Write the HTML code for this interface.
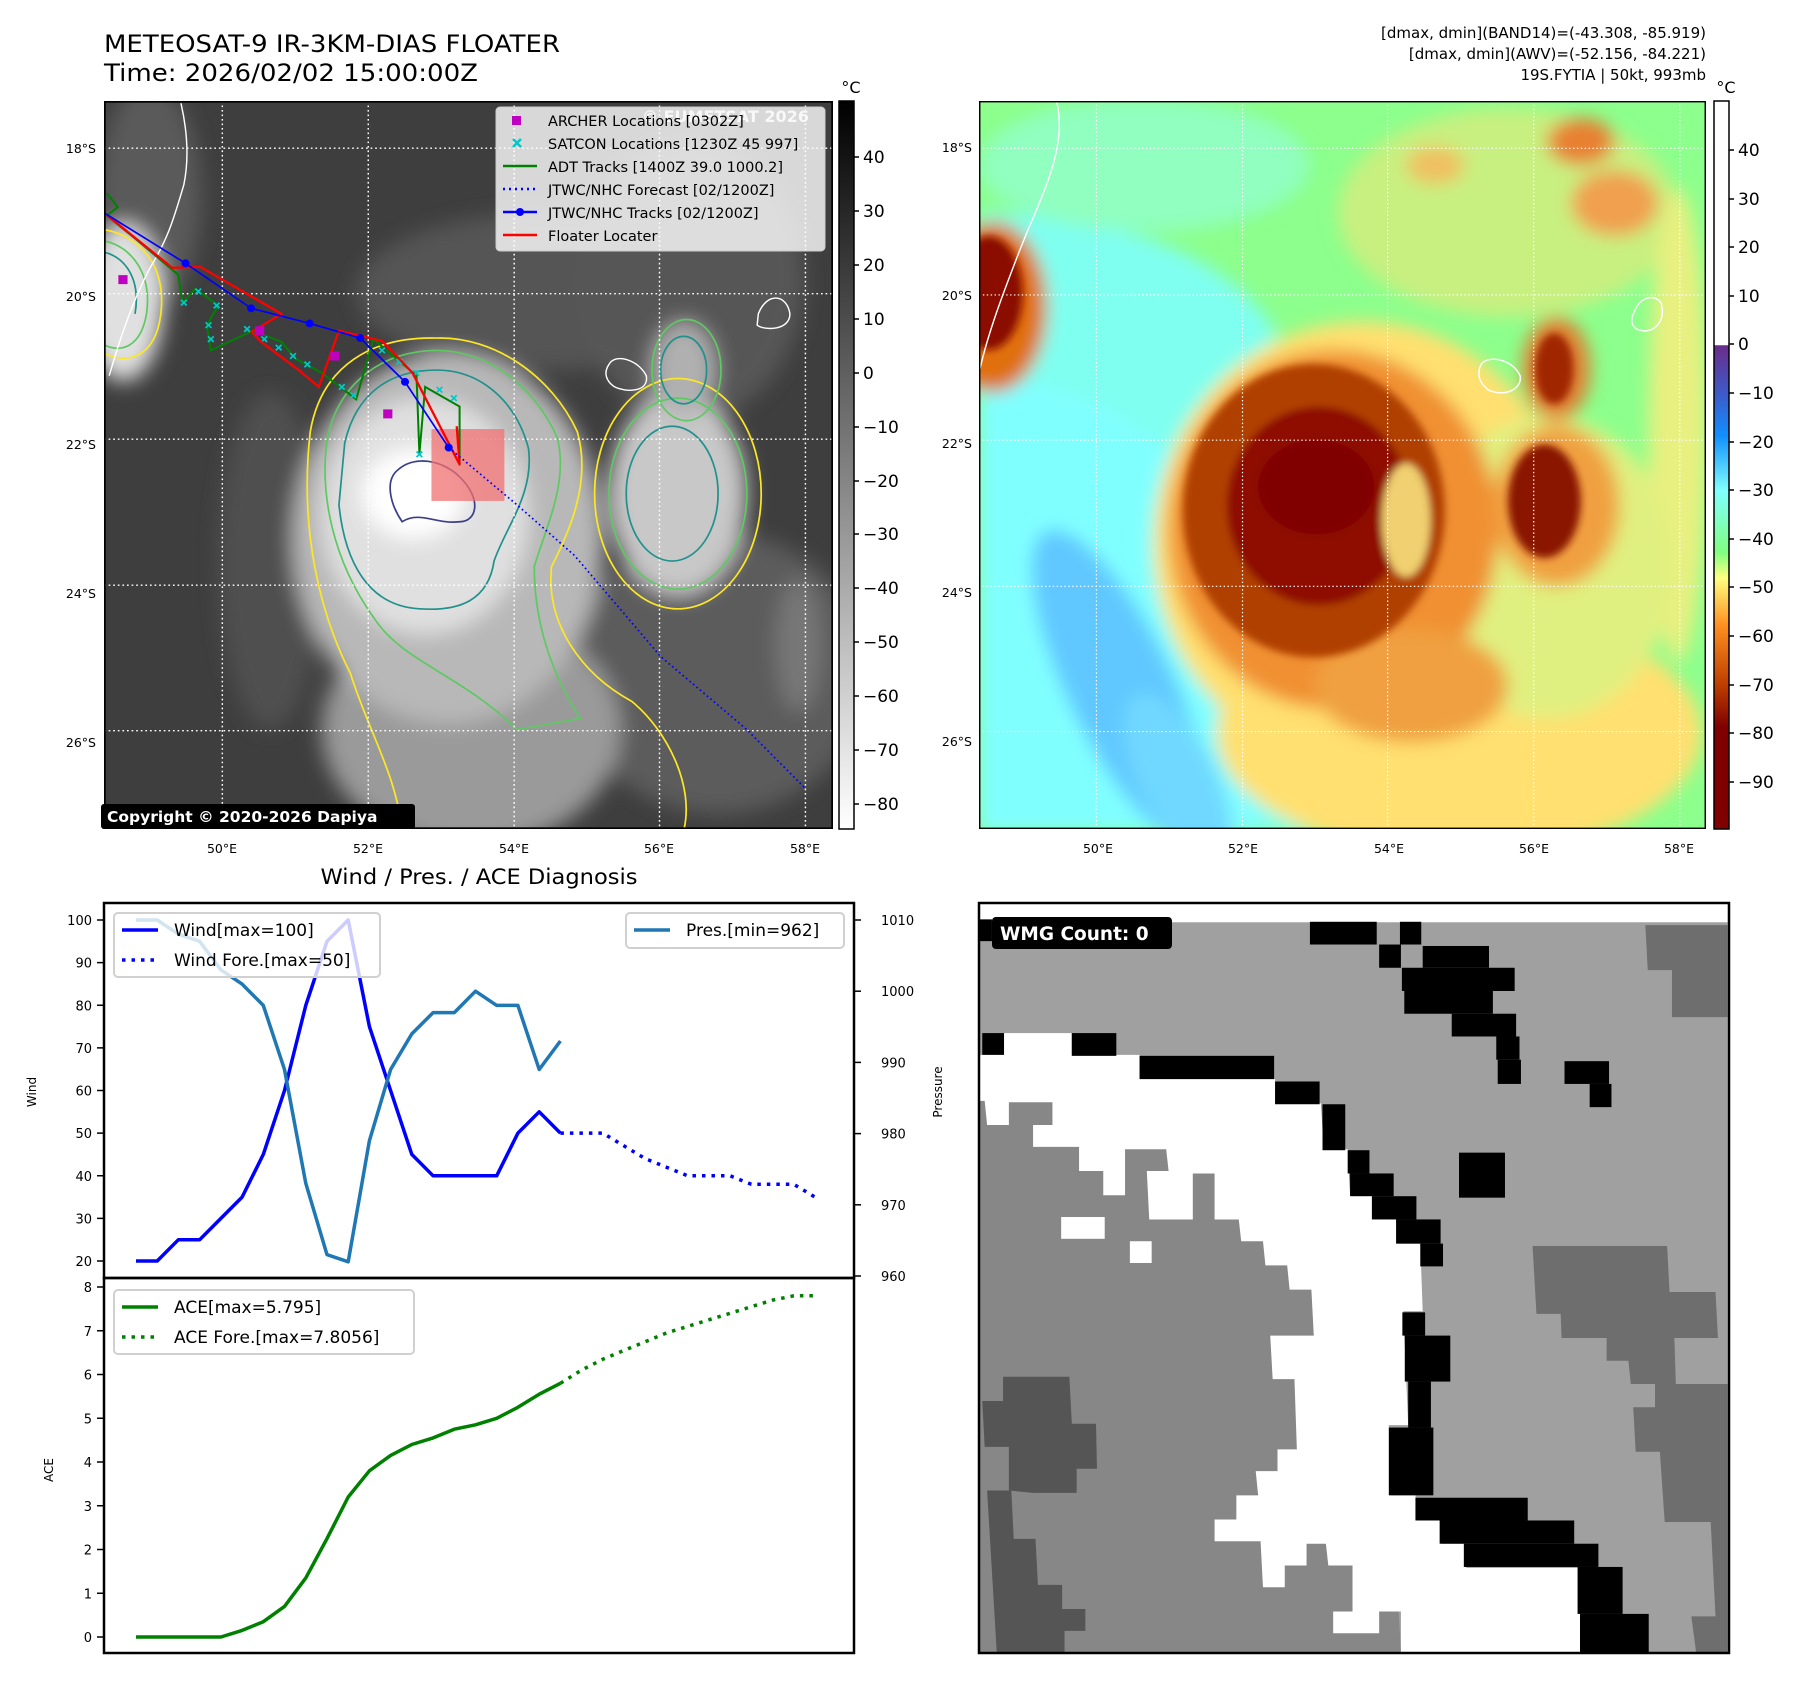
<!DOCTYPE html>
<html><head><meta charset="utf-8"><style>
html,body{margin:0;padding:0;background:#fff;}
svg{display:block;font-family:"DejaVu Sans","Liberation Sans",sans-serif;}
</style></head><body>
<svg id="root" width="1797" height="1690" viewBox="0 0 1797 1690" xmlns="http://www.w3.org/2000/svg">
<defs>
<filter id="blur1" x="-20%" y="-20%" width="140%" height="140%"><feGaussianBlur stdDeviation="18"/></filter>
<filter id="blur2" x="-20%" y="-20%" width="140%" height="140%"><feGaussianBlur stdDeviation="8"/></filter>
<linearGradient id="cbGray" x1="0" y1="0" x2="0" y2="1"><stop offset="0" stop-color="#000"/><stop offset="1" stop-color="#fff"/></linearGradient>
<linearGradient id="cbJet" x1="0" y1="0" x2="0" y2="1">
<stop offset="0" stop-color="#ffffff"/><stop offset="0.335" stop-color="#ffffff"/>
<stop offset="0.336" stop-color="#6a2c8a"/><stop offset="0.41" stop-color="#3860d0"/>
<stop offset="0.46" stop-color="#1090ff"/><stop offset="0.535" stop-color="#80ffff"/>
<stop offset="0.62" stop-color="#80ff80"/><stop offset="0.655" stop-color="#ffff80"/>
<stop offset="0.72" stop-color="#ff9020"/><stop offset="0.80" stop-color="#c04000"/>
<stop offset="0.86" stop-color="#800000"/><stop offset="1" stop-color="#800000"/>
</linearGradient>
<clipPath id="clipL"><rect x="181" y="181" width="1269" height="1296"/></clipPath>
<clipPath id="clipR"><rect x="10" y="14" width="1498" height="1539"/></clipPath>
<clipPath id="clipW"><rect x="979" y="903" width="750" height="750"/></clipPath>
</defs>

<!-- Titles -->
<text x="104" y="52" font-size="24" textLength="456" lengthAdjust="spacingAndGlyphs">METEOSAT-9 IR-3KM-DIAS FLOATER</text>
<text x="104" y="81" font-size="24" textLength="374" lengthAdjust="spacingAndGlyphs">Time: 2026/02/02 15:00:00Z</text>
<g font-size="15" text-anchor="end">
<text x="1706" y="38">[dmax, dmin](BAND14)=(-43.308, -85.919)</text>
<text x="1706" y="59">[dmax, dmin](AWV)=(-52.156, -84.221)</text>
<text x="1706" y="80">19S.FYTIA | 50kt, 993mb</text>
</g>

<!-- LEFT MAP -->
<svg x="104" y="101" width="729" height="728" viewBox="181 181 1269 1296" preserveAspectRatio="none">
<g clip-path="url(#clipL)">
<rect x="181" y="181" width="1269" height="1296" fill="#3e3e3e"/>
<g filter="url(#blur1)">
<ellipse cx="260" cy="350" rx="90" ry="200" fill="#5a5a5a"/>
<ellipse cx="950" cy="520" rx="330" ry="140" fill="#555"/>
<ellipse cx="1200" cy="500" rx="200" ry="250" fill="#575757"/>
<ellipse cx="1250" cy="1200" rx="260" ry="250" fill="#5c5c5c"/>
<ellipse cx="470" cy="1000" rx="90" ry="300" fill="#505050"/>
<ellipse cx="820" cy="1300" rx="260" ry="210" fill="#9a9a9a"/>
<ellipse cx="780" cy="960" rx="270" ry="330" fill="#b8b8b8"/>
<ellipse cx="740" cy="920" rx="180" ry="210" fill="#e0e0e0"/>
<ellipse cx="720" cy="880" rx="90" ry="80" fill="#ffffff"/>
<ellipse cx="1180" cy="880" rx="120" ry="180" fill="#c8c8c8"/>
<ellipse cx="1190" cy="660" rx="55" ry="85" fill="#b0b0b0"/>
<ellipse cx="215" cy="540" rx="70" ry="140" fill="#e0e0e0"/>
<ellipse cx="1390" cy="1150" rx="40" ry="120" fill="#777"/>
</g>
<g fill="none" stroke-width="3">
<path d="M540,770 C560,650 650,600 760,603 C860,600 960,670 1005,770 C1030,860 990,950 960,1010 C950,1110 1010,1200 1100,1250 C1160,1300 1210,1400 1190,1480 L700,1480 C690,1380 640,1300 610,1200 C560,1100 520,950 540,770 Z" stroke="#fde725"/>
<path d="M570,780 C590,680 670,625 760,625 C850,625 930,690 970,780 C990,860 950,940 930,1010 C930,1110 960,1200 1010,1280 L900,1300 C800,1200 700,1180 650,1100 C580,1000 555,880 570,780 Z" stroke="#5ec962"/>
<path d="M600,790 C620,700 680,660 760,660 C840,660 900,720 920,800 C930,880 880,940 860,1000 C850,1070 800,1090 730,1085 C640,1080 600,1000 590,900 Z" stroke="#21918c"/>
<path d="M690,840 C720,810 770,820 800,850 C840,890 830,930 800,930 C760,935 730,910 700,930 C680,900 670,860 690,840 Z" stroke="#3b3f8a"/>
<ellipse cx="1180" cy="880" rx="145" ry="205" stroke="#fde725"/>
<ellipse cx="1180" cy="880" rx="120" ry="170" stroke="#5ec962"/>
<ellipse cx="1170" cy="880" rx="80" ry="120" stroke="#21918c"/>
<ellipse cx="1195" cy="660" rx="60" ry="90" stroke="#5ec962"/>
<ellipse cx="1190" cy="660" rx="40" ry="60" stroke="#21918c"/>
<path d="M181,410 C240,420 290,470 280,560 C270,640 220,650 181,630" stroke="#fde725"/>
<path d="M181,430 C230,440 265,490 255,560 C245,620 210,630 181,615" stroke="#5ec962"/>
<path d="M181,450 C220,460 245,500 235,560" stroke="#21918c"/>
</g>
<g fill="none" stroke="#fff" stroke-width="2.5">
<path d="M315,185 C325,230 330,280 320,330 C300,400 290,430 260,480 C230,540 210,600 190,670"/>
<path d="M1060,650 C1070,630 1110,640 1125,670 C1130,700 1090,700 1070,690 C1055,680 1050,665 1060,650 Z"/>
<path d="M1320,560 C1335,520 1370,525 1375,560 C1375,590 1330,590 1318,580 Z"/>
</g>
<g stroke="#fff" stroke-width="2.5" stroke-dasharray="3 5">
<line x1="181" y1="265" x2="1450" y2="265"/><line x1="181" y1="524" x2="1450" y2="524"/><line x1="181" y1="783" x2="1450" y2="783"/><line x1="181" y1="1043" x2="1450" y2="1043"/><line x1="181" y1="1302" x2="1450" y2="1302"/>
<line x1="387" y1="181" x2="387" y2="1477"/><line x1="641" y1="181" x2="641" y2="1477"/><line x1="895" y1="181" x2="895" y2="1477"/><line x1="1148" y1="181" x2="1148" y2="1477"/><line x1="1402" y1="181" x2="1402" y2="1477"/>
</g>
<rect x="751" y="765" width="127" height="128" fill="#f07070" opacity="0.75"/>
<polyline fill="none" stroke="#008000" stroke-width="3.5" points="186,345 205,370 186,385 240,430 310,490 318,540 340,515 380,545 360,580 367,625 440,590 490,610 515,640 560,665 620,712 640,640 650,605 725,670 730,810 740,690 800,725 800,830"/>
<g stroke="#00c8c8" stroke-width="3" fill="none">
<path d="M315,535 l10,10 m0,-10 l-10,10 M340,515 l10,10 m0,-10 l-10,10 M372,540 l10,10 m0,-10 l-10,10 M358,575 l10,10 m0,-10 l-10,10 M362,600 l10,10 m0,-10 l-10,10 M425,582 l10,10 m0,-10 l-10,10 M455,600 l10,10 m0,-10 l-10,10 M480,615 l10,10 m0,-10 l-10,10 M505,630 l10,10 m0,-10 l-10,10 M530,645 l10,10 m0,-10 l-10,10 M590,685 l10,10 m0,-10 l-10,10 M610,700 l10,10 m0,-10 l-10,10 M660,620 l10,10 m0,-10 l-10,10 M690,640 l10,10 m0,-10 l-10,10 M720,660 l10,10 m0,-10 l-10,10 M760,690 l10,10 m0,-10 l-10,10 M785,705 l10,10 m0,-10 l-10,10 M725,805 l10,10 m0,-10 l-10,10"/>
</g>
<polyline fill="none" stroke="#ff0000" stroke-width="4" points="181,380 300,478 348,476 490,560 438,592 455,610 520,660 555,690 590,590 665,608 718,665 800,828 795,760"/>
<polyline fill="none" stroke="#0000ff" stroke-width="3" stroke-dasharray="3 5" points="781,798 900,900 1000,990 1150,1170 1300,1300 1402,1405"/>
<polyline fill="none" stroke="#0000ff" stroke-width="3" points="181,380 323,470 437,550 539,577 627,603 705,681 781,798"/>
<g fill="#0000ff"><circle cx="323" cy="470" r="7"/><circle cx="437" cy="550" r="7"/><circle cx="539" cy="577" r="7"/><circle cx="627" cy="603" r="7"/><circle cx="705" cy="681" r="7"/><circle cx="781" cy="798" r="7"/></g>
<g fill="#c000c0"><rect x="206" y="491" width="16" height="16"/><rect x="575" y="627" width="16" height="16"/><rect x="667" y="730" width="16" height="16"/><rect x="444" y="582" width="16" height="16"/></g>
</g>
<rect x="181" y="181" width="1269" height="1296" fill="none" stroke="#000" stroke-width="6"/>
</svg>
<text x="642" y="122" font-size="16" font-weight="bold" fill="#dddddd">© EUMETSAT 2026</text>
<g>
<rect x="496" y="107" width="329" height="144" rx="4" fill="#ffffff" fill-opacity="0.8" stroke="#cccccc"/>
<rect x="512" y="116" width="9" height="9" fill="#c000c0"/>
<path d="M513,139 l8,8 m0,-8 l-8,8" stroke="#00c8c8" stroke-width="2.5"/>
<line x1="503" y1="166" x2="537" y2="166" stroke="#008000" stroke-width="2.5"/>
<line x1="503" y1="189" x2="537" y2="189" stroke="#0000ff" stroke-width="2.5" stroke-dasharray="2 4"/>
<line x1="503" y1="212" x2="537" y2="212" stroke="#0000ff" stroke-width="2.5"/><circle cx="520" cy="212" r="4" fill="#0000ff"/>
<line x1="503" y1="235" x2="537" y2="235" stroke="#ff0000" stroke-width="2.5"/>
<g font-size="14.5" fill="#000">
<text x="548" y="126">ARCHER Locations [0302Z]</text>
<text x="548" y="149">SATCON Locations [1230Z 45 997]</text>
<text x="548" y="172">ADT Tracks [1400Z 39.0 1000.2]</text>
<text x="548" y="195">JTWC/NHC Forecast [02/1200Z]</text>
<text x="548" y="218">JTWC/NHC Tracks [02/1200Z]</text>
<text x="548" y="241">Floater Locater</text>
</g>
</g>
<g>
<rect x="101" y="804" width="314" height="25" rx="3" fill="#000"/>
<text x="107" y="822" font-size="15.5" font-weight="bold" fill="#fff">Copyright © 2020-2026 Dapiya</text>
</g>
<g font-size="12.5" text-anchor="end">
<text x="96" y="153">18°S</text><text x="96" y="301">20°S</text><text x="96" y="449">22°S</text><text x="96" y="598">24°S</text><text x="96" y="747">26°S</text>
</g>
<g font-size="12.5" text-anchor="middle">
<text x="222" y="853">50°E</text><text x="368" y="853">52°E</text><text x="514" y="853">54°E</text><text x="659" y="853">56°E</text><text x="805" y="853">58°E</text>
</g>
<g>
<rect x="839" y="101" width="15" height="728" fill="url(#cbGray)" stroke="#000" stroke-width="1.5"/>
<text x="851" y="93" font-size="16" text-anchor="middle">°C</text>
<g stroke="#000" stroke-width="1.5">
<line x1="854" y1="157" x2="859" y2="157"/><line x1="854" y1="211" x2="859" y2="211"/><line x1="854" y1="265" x2="859" y2="265"/><line x1="854" y1="319" x2="859" y2="319"/><line x1="854" y1="373" x2="859" y2="373"/><line x1="854" y1="427" x2="859" y2="427"/><line x1="854" y1="481" x2="859" y2="481"/><line x1="854" y1="534" x2="859" y2="534"/><line x1="854" y1="588" x2="859" y2="588"/><line x1="854" y1="642" x2="859" y2="642"/><line x1="854" y1="696" x2="859" y2="696"/><line x1="854" y1="750" x2="859" y2="750"/><line x1="854" y1="804" x2="859" y2="804"/>
</g>
<g font-size="17">
<text x="863" y="163">40</text><text x="863" y="217">30</text><text x="863" y="271">20</text><text x="863" y="325">10</text><text x="863" y="379">0</text><text x="863" y="433">−10</text><text x="863" y="487">−20</text><text x="863" y="540">−30</text><text x="863" y="594">−40</text><text x="863" y="648">−50</text><text x="863" y="702">−60</text><text x="863" y="756">−70</text><text x="863" y="810">−80</text>
</g>
</g>

<!-- RIGHT MAP -->
<svg x="979" y="101" width="727" height="728" viewBox="10 14 1498 1539" preserveAspectRatio="none">
<g clip-path="url(#clipR)">
<rect x="10" y="14" width="1498" height="1539" fill="#8cff8c"/>
<g filter="url(#blur1)">
<path d="M10,250 C200,250 500,300 620,500 L700,1560 L10,1560 Z" fill="#7ffff0"/>
<path d="M10,600 C200,600 400,700 520,900 L600,1560 L10,1560 Z" fill="#80ffff"/>
<ellipse cx="300" cy="1250" rx="110" ry="360" transform="rotate(-25 300 1250)" fill="#60c8ff"/>
<ellipse cx="420" cy="1450" rx="80" ry="200" transform="rotate(-25 420 1450)" fill="#70d8ff"/>
<ellipse cx="350" cy="150" rx="340" ry="140" fill="#90ffc0"/>
<ellipse cx="1100" cy="250" rx="350" ry="220" fill="#c8f080"/>
<ellipse cx="1250" cy="100" rx="70" ry="50" fill="#e88030"/>
<ellipse cx="1320" cy="230" rx="90" ry="70" fill="#f0a050"/>
<ellipse cx="950" cy="150" rx="60" ry="40" fill="#f0c060"/>
<ellipse cx="1450" cy="700" rx="60" ry="500" fill="#e8f080"/>
<ellipse cx="1000" cy="1350" rx="500" ry="260" fill="#ffe070"/>
<ellipse cx="800" cy="950" rx="430" ry="470" fill="#ffe070"/>
<ellipse cx="1180" cy="1000" rx="260" ry="320" fill="#e0f080"/>
<ellipse cx="740" cy="920" rx="340" ry="380" fill="#f09030"/>
<ellipse cx="900" cy="1250" rx="200" ry="120" fill="#f0a040"/>
<ellipse cx="1200" cy="870" rx="130" ry="170" fill="#f0a040"/>
<ellipse cx="1200" cy="580" rx="70" ry="110" fill="#e08030"/>
<ellipse cx="40" cy="450" rx="110" ry="180" fill="#e07010"/>
</g>
<g filter="url(#blur2)">
<ellipse cx="700" cy="880" rx="270" ry="310" fill="#b04000"/>
<ellipse cx="710" cy="870" rx="190" ry="210" fill="#8e1000"/>
<ellipse cx="705" cy="830" rx="120" ry="100" fill="#800000"/>
<ellipse cx="1175" cy="860" rx="75" ry="120" fill="#8a1800"/>
<ellipse cx="1195" cy="580" rx="40" ry="75" fill="#a02800"/>
<ellipse cx="30" cy="420" rx="70" ry="120" fill="#8a1000"/>
<ellipse cx="890" cy="900" rx="50" ry="120" fill="#f0d070"/>
</g>
<g fill="none" stroke="#fff" stroke-width="3">
<path d="M170,14 C180,60 175,100 165,140 C150,200 120,260 90,340 C60,420 30,500 12,580"/>
<path d="M1045,570 C1060,550 1110,560 1125,595 C1130,625 1090,640 1060,625 C1040,610 1035,590 1045,570 Z"/>
<path d="M1360,460 C1370,430 1400,420 1415,440 C1425,470 1410,500 1380,500 C1355,498 1350,480 1360,460 Z"/>
</g>
<g stroke="#fff" stroke-width="2.5" stroke-dasharray="3 5">
<line x1="10" y1="114" x2="1508" y2="114"/><line x1="10" y1="424" x2="1508" y2="424"/><line x1="10" y1="731" x2="1508" y2="731"/><line x1="10" y1="1040" x2="1508" y2="1040"/><line x1="10" y1="1347" x2="1508" y2="1347"/>
<line x1="252" y1="14" x2="252" y2="1553"/><line x1="553" y1="14" x2="553" y2="1553"/><line x1="852" y1="14" x2="852" y2="1553"/><line x1="1153" y1="14" x2="1153" y2="1553"/><line x1="1454" y1="14" x2="1454" y2="1553"/>
</g>
</g>
<rect x="10" y="14" width="1498" height="1539" fill="none" stroke="#000" stroke-width="6"/>
</svg>
<g font-size="12.5" text-anchor="end">
<text x="972" y="152">18°S</text><text x="972" y="300">20°S</text><text x="972" y="448">22°S</text><text x="972" y="597">24°S</text><text x="972" y="746">26°S</text>
</g>
<g font-size="12.5" text-anchor="middle">
<text x="1098" y="853">50°E</text><text x="1243" y="853">52°E</text><text x="1389" y="853">54°E</text><text x="1534" y="853">56°E</text><text x="1679" y="853">58°E</text>
</g>
<g>
<rect x="1714" y="101" width="15" height="728" fill="url(#cbJet)" stroke="#000" stroke-width="1.5"/>
<text x="1726" y="93" font-size="16" text-anchor="middle">°C</text>
<g stroke="#000" stroke-width="1.5">
<line x1="1729" y1="150" x2="1734" y2="150"/><line x1="1729" y1="199" x2="1734" y2="199"/><line x1="1729" y1="247" x2="1734" y2="247"/><line x1="1729" y1="296" x2="1734" y2="296"/><line x1="1729" y1="344" x2="1734" y2="344"/><line x1="1729" y1="393" x2="1734" y2="393"/><line x1="1729" y1="442" x2="1734" y2="442"/><line x1="1729" y1="490" x2="1734" y2="490"/><line x1="1729" y1="539" x2="1734" y2="539"/><line x1="1729" y1="587" x2="1734" y2="587"/><line x1="1729" y1="636" x2="1734" y2="636"/><line x1="1729" y1="685" x2="1734" y2="685"/><line x1="1729" y1="733" x2="1734" y2="733"/><line x1="1729" y1="782" x2="1734" y2="782"/>
</g>
<g font-size="17">
<text x="1738" y="156">40</text><text x="1738" y="205">30</text><text x="1738" y="253">20</text><text x="1738" y="302">10</text><text x="1738" y="350">0</text><text x="1738" y="399">−10</text><text x="1738" y="448">−20</text><text x="1738" y="496">−30</text><text x="1738" y="545">−40</text><text x="1738" y="593">−50</text><text x="1738" y="642">−60</text><text x="1738" y="691">−70</text><text x="1738" y="739">−80</text><text x="1738" y="788">−90</text>
</g>
</g>

<!-- WMG panel -->
<g>
<g clip-path="url(#clipW)">
<g transform="translate(975,900) scale(0.484)">
<rect x="8" y="8" width="1547" height="1547" fill="#a0a0a0"/>
<rect x="8" y="8" width="1547" height="38" fill="#fff"/>
<polygon fill="#6e6e6e" points="1385,52 1555,52 1555,242 1440,242 1440,145 1390,145"/>
<polygon fill="#6e6e6e" points="1152,715 1430,715 1435,810 1530,810 1535,905 1445,905 1448,1000 1555,1000 1555,1555 1490,1555 1480,1480 1530,1480 1520,1285 1425,1285 1415,1140 1365,1140 1360,1048 1405,1048 1405,1000 1355,1000 1350,952 1305,952 1305,905 1212,905 1210,855 1160,855"/>
<polygon fill="#878787" points="10,410 715,420 922,850 855,1085 880,1555 10,1555"/>
<polygon fill="#fff" points="15,320 60,275 200,275 200,320 340,320 340,370 620,370 620,420 715,420 720,515 770,515 775,610 820,610 825,660 870,660 875,710 920,710 925,850 885,850 895,1085 855,1085 860,1230 910,1230 915,1280 960,1280 965,1330 1010,1330 1015,1380 1245,1380 1255,1555 880,1555 880,1470 835,1470 835,1515 740,1515 740,1470 780,1470 780,1375 730,1375 725,1330 685,1330 685,1375 640,1375 640,1420 595,1420 590,1325 495,1325 495,1280 540,1280 540,1230 585,1230 580,1180 625,1180 625,1135 665,1135 660,990 615,990 610,900 700,900 695,805 650,805 645,755 600,755 595,705 550,705 545,660 495,660 495,565 450,565 450,660 360,660 355,560 400,560 395,515 310,515 310,610 265,610 265,560 215,560 215,510 120,510 120,465 160,465 160,418 70,418 70,465 25,465 20,415 10,415 10,320"/>
<rect x="178" y="655" width="90" height="45" fill="#fff"/><rect x="320" y="705" width="45" height="45" fill="#fff"/>
<polygon fill="#555" points="58,985 195,985 200,1082 250,1082 252,1175 210,1175 210,1225 120,1225 70,1220 70,1130 20,1130 15,1035 58,1035"/>
<polygon fill="#555" points="25,1220 75,1220 80,1320 125,1320 130,1415 180,1415 180,1465 228,1465 228,1510 185,1510 185,1555 45,1555"/>
<g fill="#000">
<rect x="15" y="275" width="45" height="45"/><rect x="200" y="275" width="92" height="47"/><rect x="340" y="322" width="278" height="48"/><rect x="620" y="375" width="92" height="47"/><rect x="718" y="422" width="47" height="95"/><rect x="770" y="517" width="45" height="48"/><rect x="775" y="565" width="90" height="47"/><rect x="820" y="612" width="92" height="48"/><rect x="870" y="660" width="92" height="50"/><rect x="920" y="710" width="47" height="47"/>
<rect x="883" y="852" width="47" height="48"/><rect x="888" y="900" width="94" height="95"/><rect x="895" y="995" width="47" height="95"/><rect x="855" y="1090" width="92" height="140"/><rect x="910" y="1235" width="232" height="47"/><rect x="960" y="1282" width="278" height="48"/><rect x="1010" y="1330" width="278" height="48"/><rect x="1245" y="1378" width="93" height="97"/><rect x="1250" y="1475" width="142" height="80"/>
<rect x="692" y="45" width="138" height="47"/><rect x="878" y="45" width="44" height="47"/><rect x="835" y="92" width="45" height="48"/><rect x="925" y="95" width="137" height="45"/><rect x="882" y="140" width="233" height="48"/><rect x="887" y="188" width="183" height="47"/><rect x="985" y="235" width="133" height="47"/><rect x="1077" y="282" width="48" height="48"/><rect x="1080" y="330" width="48" height="50"/><rect x="1218" y="333" width="92" height="47"/><rect x="1270" y="380" width="45" height="48"/><rect x="1000" y="522" width="95" height="93"/>
<rect x="10" y="40" width="25" height="45"/>
</g>
</g>
</g>
<rect x="979" y="903" width="750" height="750" fill="none" stroke="#000" stroke-width="2.5"/>
<rect x="992" y="917" width="180" height="32" rx="4" fill="#000"/>
<text x="1000" y="940" font-size="18.5" font-weight="bold" fill="#fff">WMG Count: 0</text>
</g>

<!-- Bottom-left chart -->
<text x="479" y="884" font-size="21" text-anchor="middle" textLength="317" lengthAdjust="spacingAndGlyphs">Wind / Pres. / ACE Diagnosis</text>
<g id="chart"></g>

<script>
// ---- chart data ----
var windObs = [20,20,25,25,30,35,45,60,80,95,100,75,60,45,40,40,40,40,50,55,50];
var windFore = [50,50,50,47,44,42,40,40,40,38,38,38,35];
var presObs = [1010,1010,1008,1007,1003,1001,998,989,973,963,962,979,989,994,997,997,1000,998,998,989,993];
var aceObs = [0,0,0,0,0,0.15,0.35,0.7,1.35,2.25,3.2,3.8,4.15,4.4,4.55,4.75,4.85,5.0,5.25,5.55,5.8];
var aceFore = [5.8,6.1,6.35,6.55,6.75,6.95,7.1,7.25,7.4,7.55,7.7,7.8,7.8];
var windTicks = [20,30,40,50,60,70,80,90,100];
var presTicks = [960,970,980,990,1000,1010];
var aceTicks = [0,1,2,3,4,5,6,7,8];

var NS = "http://www.w3.org/2000/svg";
var g = document.getElementById("chart");
function xS(i){ return 136 + i*(815-136)/32; }
function yWind(v){ return 920 + (100-v)*(1261-920)/80; }
function yPres(v){ return 920 + (1010-v)*(1276-920)/50; }
function yAce(v){ return 1637 - v*(1637-1287)/8; }
function mk(tag){ var e=document.createElementNS(NS,tag); g.appendChild(e); return e; }
function pts(arr, off, yf){ return arr.map(function(v,k){ return xS(k+off).toFixed(1)+","+yf(v).toFixed(1); }).join(" "); }

var f1 = mk("rect"); f1.setAttribute("x",104); f1.setAttribute("y",903); f1.setAttribute("width",750); f1.setAttribute("height",375); f1.setAttribute("fill","none"); f1.setAttribute("stroke","#000"); f1.setAttribute("stroke-width","2.5");


var f2 = mk("rect"); f2.setAttribute("x",104); f2.setAttribute("y",1278); f2.setAttribute("width",750); f2.setAttribute("height",375); f2.setAttribute("fill","none"); f2.setAttribute("stroke","#000"); f2.setAttribute("stroke-width","2.5");



function tick(x1,y,x2,tx,label,anchor,name){
  var l = mk("line"); l.setAttribute("x1",x1); l.setAttribute("x2",x2); l.setAttribute("y1",y); l.setAttribute("y2",y); l.setAttribute("stroke","#000"); l.setAttribute("stroke-width","1.5");
  
  
  var t = mk("text"); t.setAttribute("x",tx); t.setAttribute("y",y+5); t.setAttribute("font-size","13"); t.setAttribute("text-anchor",anchor); t.textContent=label;
  
  
}
windTicks.forEach(function(v){ tick(97,yWind(v),104,92,String(v),"end","wind-axis"); });
presTicks.forEach(function(v){ tick(854,yPres(v),861,881,String(v),"start","pressure-axis"); });
aceTicks.forEach(function(v){ tick(97,yAce(v),104,92,String(v),"end","ace-axis"); });

function ylab(x,y,txt,name){
  var t = mk("text"); t.setAttribute("x",x); t.setAttribute("y",y); t.setAttribute("font-size","12"); t.setAttribute("text-anchor","middle"); t.setAttribute("transform","rotate(-90 "+x+" "+y+")"); t.textContent=txt;
  
  
}
ylab(36,1092,"Wind","wind-axis-title");
ylab(942,1092,"Pressure","pressure-axis-title");
ylab(53,1470,"ACE","ace-axis-title");

function line(p,color,dash,name){
  var e = mk("polyline"); e.setAttribute("points",p); e.setAttribute("fill","none"); e.setAttribute("stroke",color); e.setAttribute("stroke-width","3.5"); e.setAttribute("stroke-linejoin","round");
  if(dash) e.setAttribute("stroke-dasharray",dash);
  
  
}
line(pts(windObs,0,yWind),"#0000ff",null,"wind-line");
line(pts(windFore,20,yWind),"#0000ff","3.5 6","wind-forecast-line");
line(pts(presObs,0,yPres),"#1f77b4",null,"pressure-line");
line(pts(aceObs,0,yAce),"#008000",null,"ace-line");
line(pts(aceFore,20,yAce),"#008000","3.5 6","ace-forecast-line");

function legend(x,y,w,h,items,name){
  var r = mk("rect"); r.setAttribute("x",x); r.setAttribute("y",y); r.setAttribute("width",w); r.setAttribute("height",h); r.setAttribute("rx",4); r.setAttribute("fill","#fff"); r.setAttribute("fill-opacity","0.8"); r.setAttribute("stroke","#d0d0d0"); r.setAttribute("stroke-width","2");
  
  
  items.forEach(function(it,k){
    var yy = y+17+k*30;
    var l = mk("line"); l.setAttribute("x1",x+8); l.setAttribute("x2",x+44); l.setAttribute("y1",yy); l.setAttribute("y2",yy); l.setAttribute("stroke",it[1]); l.setAttribute("stroke-width","3.5");
    if(it[2]) l.setAttribute("stroke-dasharray","3.5 6");
    
    
    var t = mk("text"); t.setAttribute("x",x+60); t.setAttribute("y",yy+6); t.setAttribute("font-size","17"); t.textContent=it[0];
    
    
  });
}
legend(114,913,266,64,[["Wind[max=100]","#0000ff",false],["Wind Fore.[max=50]","#0000ff",true]],"wind-legend");
legend(626,913,218,35,[["Pres.[min=962]","#1f77b4",false]],"pressure-legend");
legend(114,1290,300,64,[["ACE[max=5.795]","#008000",false],["ACE Fore.[max=7.8056]","#008000",true]],"ace-legend");
</script>
</svg>
</body></html>
